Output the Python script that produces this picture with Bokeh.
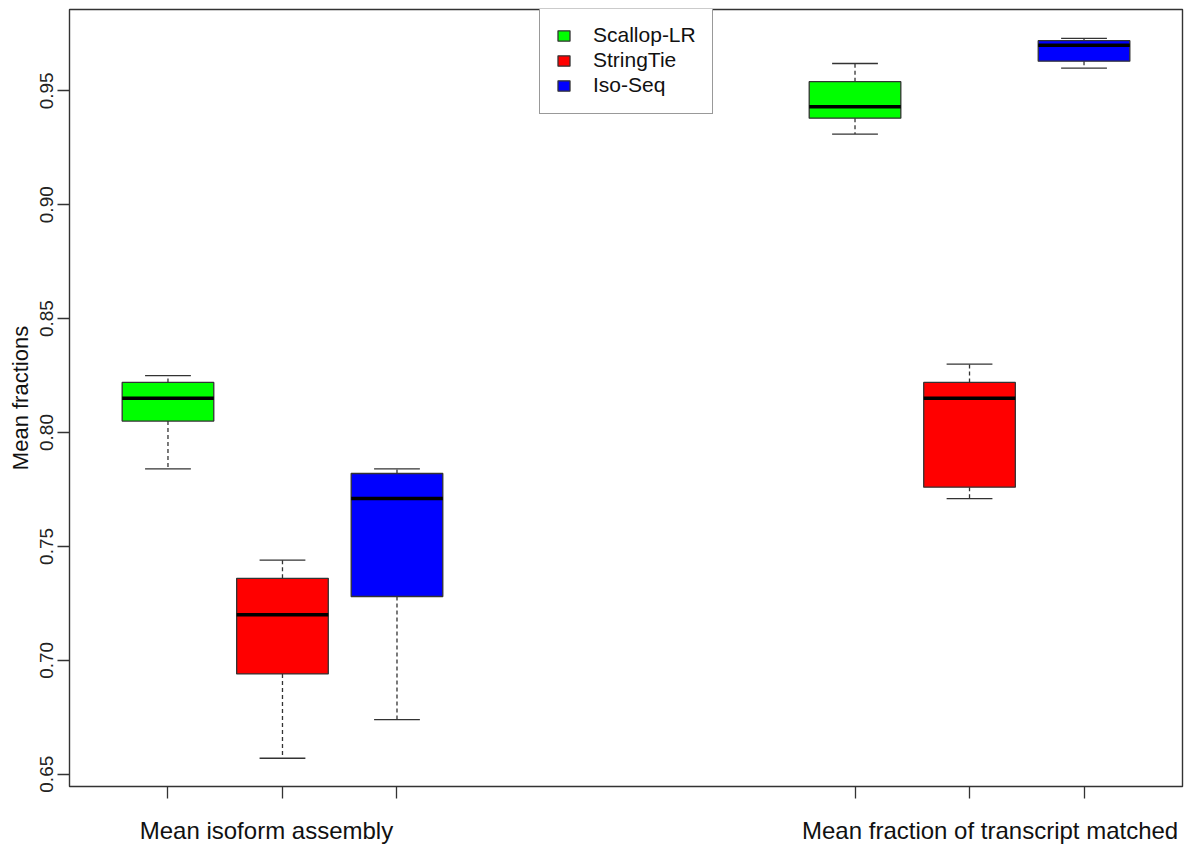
from bokeh.plotting import figure
from bokeh.models import (Range1d, FixedTicker, Legend, LegendItem,
                          ColumnDataSource)
from bokeh.embed import file_html
from bokeh.resources import INLINE

# Two metric groups, three assemblers each
groups = ["Mean isoform assembly", "Mean fraction of transcript matched"]
group_start = [1, 7]
series = ["Scallop-LR", "StringTie", "Iso-Seq"]
colors = ["#00FF00", "#FF0000", "#0000FF"]

# Box-plot statistics per series, one value per group
scallop_lower = [0.784, 0.931]
scallop_q1 = [0.805, 0.938]
scallop_median = [0.815, 0.943]
scallop_q3 = [0.822, 0.954]
scallop_upper = [0.825, 0.962]

stringtie_lower = [0.657, 0.771]
stringtie_q1 = [0.694, 0.776]
stringtie_median = [0.720, 0.815]
stringtie_q3 = [0.736, 0.822]
stringtie_upper = [0.744, 0.830]

isoseq_lower = [0.674, 0.960]
isoseq_q1 = [0.728, 0.963]
isoseq_median = [0.771, 0.970]
isoseq_q3 = [0.782, 0.972]
isoseq_upper = [0.784, 0.973]

stats = [
    (scallop_lower, scallop_q1, scallop_median, scallop_q3, scallop_upper),
    (stringtie_lower, stringtie_q1, stringtie_median, stringtie_q3, stringtie_upper),
    (isoseq_lower, isoseq_q1, isoseq_median, isoseq_q3, isoseq_upper),
]

y_ticks = [0.65, 0.70, 0.75, 0.80, 0.85, 0.90, 0.95]
y_tick_labels = ["0.65", "0.70", "0.75", "0.80", "0.85", "0.90", "0.95"]

FONT = "Liberation Sans"
INK = "#333333"
BOX_W = 0.8
CAP_W = 0.4

p = figure(width=1186, height=846,
           x_range=Range1d(0.14, 9.86), y_range=Range1d(0.6446, 0.9857),
           output_backend="svg", toolbar_location=None,
           min_border_left=69, min_border_right=4,
           min_border_top=9, min_border_bottom=59)
p.grid.visible = False
p.background_fill_color = "white"
p.border_fill_color = "white"
p.outline_line_color = INK
p.outline_line_width = 1.4

box_renderers = []
all_positions = []
for i, (name, color) in enumerate(zip(series, colors)):
    lower, q1, med, q3, upper = stats[i]
    xs = [g + i for g in group_start]
    all_positions.extend(xs)
    src = ColumnDataSource(dict(
        x=xs, lower=lower, q1=q1, med=med, q3=q3, upper=upper,
        bx0=[x - BOX_W / 2 for x in xs], bx1=[x + BOX_W / 2 for x in xs],
        cx0=[x - CAP_W / 2 for x in xs], cx1=[x + CAP_W / 2 for x in xs],
    ))
    # dashed whiskers and their caps
    p.segment(x0="x", x1="x", y0="q3", y1="upper", source=src,
              line_color=INK, line_width=1.3, line_dash="4 3")
    p.segment(x0="x", x1="x", y0="q1", y1="lower", source=src,
              line_color=INK, line_width=1.3, line_dash="4 3")
    p.segment(x0="cx0", x1="cx1", y0="upper", y1="upper", source=src,
              line_color=INK, line_width=1.3)
    p.segment(x0="cx0", x1="cx1", y0="lower", y1="lower", source=src,
              line_color=INK, line_width=1.3)
    # interquartile box
    r = p.vbar(x="x", width=BOX_W, bottom="q1", top="q3", source=src,
               fill_color=color, line_color=INK, line_width=1.3)
    box_renderers.append(r)
    # median bar
    p.segment(x0="bx0", x1="bx1", y0="med", y1="med", source=src,
              line_color="black", line_width=3.5)

# y axis
p.yaxis.ticker = FixedTicker(ticks=y_ticks)
p.yaxis.major_label_overrides = dict(zip(y_ticks, y_tick_labels))
p.yaxis.major_label_orientation = "vertical"
p.yaxis.major_label_text_font = FONT
p.yaxis.major_label_text_font_size = "19px"
p.yaxis.major_label_text_color = "#222222"
p.yaxis.major_label_standoff = 4
p.yaxis.axis_label = "Mean fractions"
p.yaxis.axis_label_text_font = FONT
p.yaxis.axis_label_text_font_size = "22px"
p.yaxis.axis_label_text_font_style = "normal"
p.yaxis.axis_label_text_color = "#111111"
p.yaxis.axis_label_standoff = 5
p.yaxis.axis_line_color = None
p.yaxis.major_tick_line_color = INK
p.yaxis.major_tick_line_width = 1.3
p.yaxis.major_tick_out = 12
p.yaxis.major_tick_in = 0
p.yaxis.minor_tick_line_color = None

# x axis: a tick under every box, group names as the labelled positions
group_label_x = [1.86, 8.18]
p.xaxis.ticker = FixedTicker(ticks=group_label_x,
                             minor_ticks=sorted(all_positions))
p.xaxis.major_label_overrides = dict(zip(group_label_x, groups))
p.xaxis.major_label_text_font = FONT
p.xaxis.major_label_text_font_size = "24px"
p.xaxis.major_label_text_color = "#111111"
p.xaxis.major_label_standoff = 18
p.xaxis.axis_line_color = None
p.xaxis.major_tick_line_color = None
p.xaxis.major_tick_out = 0
p.xaxis.major_tick_in = 0
p.xaxis.minor_tick_line_color = INK
p.xaxis.minor_tick_line_width = 1.3
p.xaxis.minor_tick_out = 12
p.xaxis.minor_tick_in = 0

legend = Legend(items=[LegendItem(label=s, renderers=[r])
                       for s, r in zip(series, box_renderers)],
                location=(470, 672))
legend.glyph_width = 15
legend.glyph_height = 13
legend.label_standoff = 22
legend.padding = 16
legend.spacing = 1
legend.margin = 0
legend.label_text_font = FONT
legend.label_text_font_size = "21px"
legend.label_text_color = "#111111"
legend.border_line_color = INK
legend.border_line_width = 1.3
legend.background_fill_color = "white"
legend.background_fill_alpha = 1.0
p.add_layout(legend, "center")

open("out.html", "w").write(file_html(p, INLINE))
